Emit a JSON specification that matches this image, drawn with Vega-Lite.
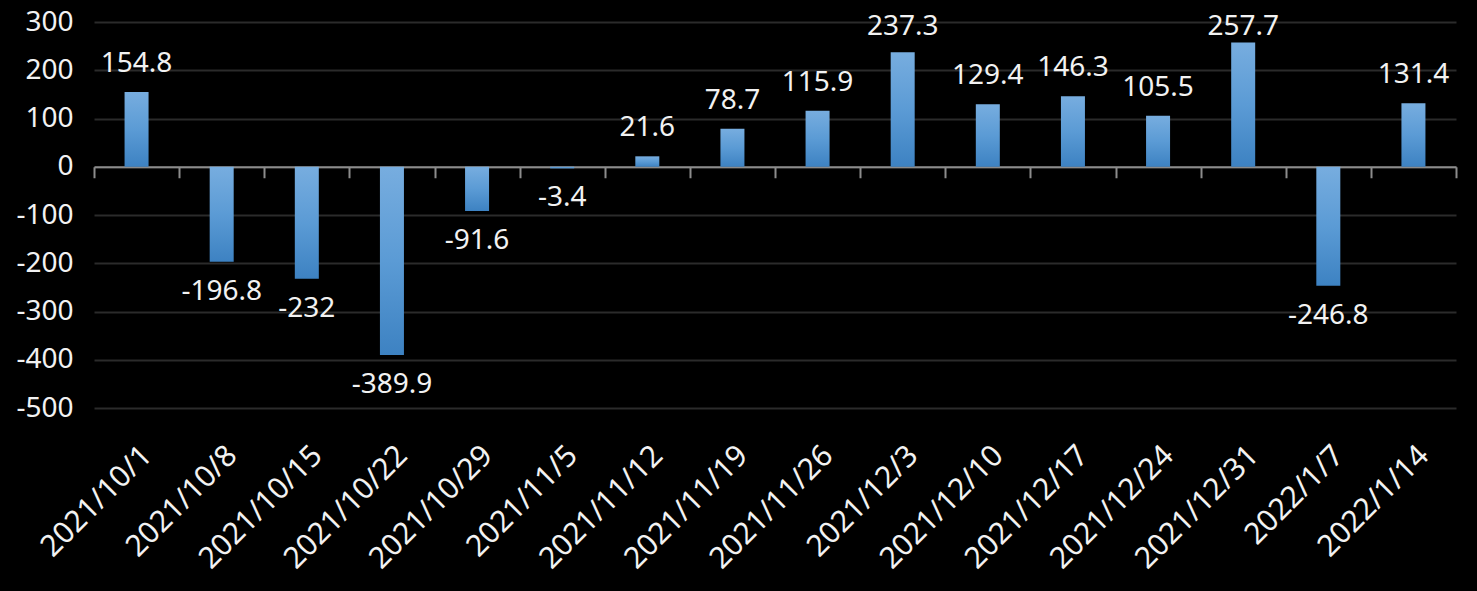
{
  "$schema": "https://vega.github.io/schema/vega-lite/v6.json",
  "width": 1362,
  "height": 386,
  "autosize": {"type": "none"},
  "padding": {"left": 94, "top": 22, "right": 21, "bottom": 183},
  "background": "#000000",
  "config": {"view": {"stroke": null}, "font": "Noto Sans"},
  "data": {"values": [
    {"date": "2021/10/1", "value": 154.8},
    {"date": "2021/10/8", "value": -196.8},
    {"date": "2021/10/15", "value": -232},
    {"date": "2021/10/22", "value": -389.9},
    {"date": "2021/10/29", "value": -91.6},
    {"date": "2021/11/5", "value": -3.4},
    {"date": "2021/11/12", "value": 21.6},
    {"date": "2021/11/19", "value": 78.7},
    {"date": "2021/11/26", "value": 115.9},
    {"date": "2021/12/3", "value": 237.3},
    {"date": "2021/12/10", "value": 129.4},
    {"date": "2021/12/17", "value": 146.3},
    {"date": "2021/12/24", "value": 105.5},
    {"date": "2021/12/31", "value": 257.7},
    {"date": "2022/1/7", "value": -246.8},
    {"date": "2022/1/14", "value": 131.4}
  ]},
  "layer": [
    {
      "mark": {"type": "bar", "size": 24, "color": {"gradient": "linear", "x1": 0, "y1": 0, "x2": 0, "y2": 1, "stops": [{"offset": 0, "color": "#77addf"}, {"offset": 0.5, "color": "#5b9bd5"}, {"offset": 1, "color": "#3d82c2"}]}},
      "encoding": {
        "x": {"field": "date", "type": "nominal", "sort": null, "scale": {"paddingInner": 0, "paddingOuter": 0},
          "axis": {"orient": "bottom", "offset": -241.25, "labels": false, "grid": false, "domainColor": "#8c8c8c", "domainWidth": 2, "tickColor": "#8c8c8c", "tickWidth": 2, "tickSize": 11, "tickBand": "extent", "title": null}},
        "y": {"field": "value", "type": "quantitative", "scale": {"domain": [-500, 300], "nice": false, "zero": false},
          "axis": {"values": [-500, -400, -300, -200, -100, 0, 100, 200, 300], "grid": true, "gridColor": "#2b2b2b", "gridWidth": 2, "domain": false, "ticks": false, "labelPadding": 21, "labelFontSize": 28, "labelColor": "#f2f2f2", "labelExpr": "'' + datum.value", "title": null}}
      }
    },
    {
      "transform": [{"filter": "datum.value >= 0"}],
      "mark": {"type": "text", "fontSize": 28, "color": "#f2f2f2", "align": "center", "baseline": "alphabetic", "dy": {"expr": "max(-20, 13 - scale('y', datum.value))"}},
      "encoding": {
        "x": {"field": "date", "type": "nominal", "sort": null,
          "axis": {"orient": "bottom", "domain": false, "ticks": false, "grid": false, "labelAngle": -45, "labelAlign": "right", "labelBaseline": "top", "labelFontSize": 30, "labelColor": "#f2f2f2", "labelPadding": 32, "labelOverlap": false, "labelLimit": 300, "title": null}},
        "y": {"field": "value", "type": "quantitative"},
        "text": {"field": "value", "type": "nominal"}
      }
    },
    {
      "transform": [{"filter": "datum.value < 0"}],
      "mark": {"type": "text", "fontSize": 28, "color": "#f2f2f2", "align": "center", "baseline": "alphabetic", "dy": 38},
      "encoding": {
        "x": {"field": "date", "type": "nominal", "sort": null, "axis": null},
        "y": {"field": "value", "type": "quantitative"},
        "text": {"field": "value", "type": "nominal"}
      }
    }
  ],
  "resolve": {"axis": {"x": "independent"}}
}
